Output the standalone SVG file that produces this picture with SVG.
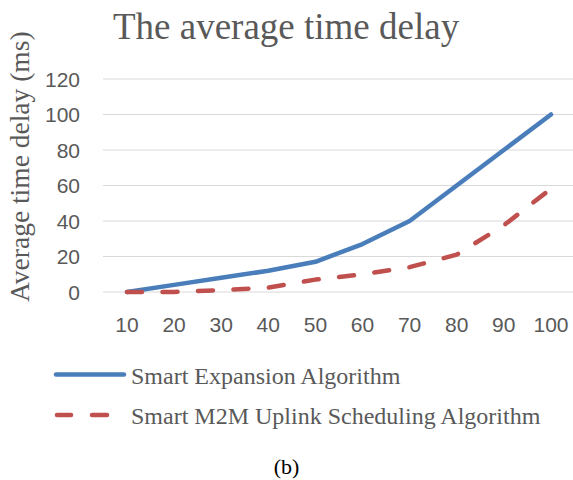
<svg xmlns="http://www.w3.org/2000/svg" width="573" height="480" viewBox="0 0 573 480">
<style>
.grid{stroke:#D9D9D9;stroke-width:1;fill:none}
.tick{font-family:"Liberation Sans",Arial,sans-serif;font-size:21px;fill:#595959}
.ser{font-family:"Liberation Serif","Times New Roman",serif;fill:#595959}
.blue{stroke:#4A7EBB;stroke-width:4.5;fill:none;stroke-linejoin:round;stroke-linecap:round}
.red{stroke:#C0504D;stroke-width:4.5;fill:none;stroke-linejoin:round;stroke-linecap:round;stroke-dasharray:15 20.5}
</style>
<rect width="573" height="480" fill="#FFFFFF"/>
<g id="title"><text class="ser" x="113" y="39" font-size="37">The average time delay</text></g>
<g id="y-axis-title"><text class="ser" font-size="27.5" transform="translate(29,302) rotate(-90)">Average time delay (ms)</text></g>
<g id="gridlines">
<line class="grid" x1="103" y1="79" x2="573" y2="79"/>
<line class="grid" x1="103" y1="114.5" x2="573" y2="114.5"/>
<line class="grid" x1="103" y1="150" x2="573" y2="150"/>
<line class="grid" x1="103" y1="185.5" x2="573" y2="185.5"/>
<line class="grid" x1="103" y1="221" x2="573" y2="221"/>
<line class="grid" x1="103" y1="256.5" x2="573" y2="256.5"/>
<line class="grid" x1="103" y1="292" x2="573" y2="292"/>
</g>
<g id="y-labels" text-anchor="end">
<text class="tick" x="80" y="86.5">120</text>
<text class="tick" x="80" y="122">100</text>
<text class="tick" x="80" y="157.5">80</text>
<text class="tick" x="80" y="193">60</text>
<text class="tick" x="80" y="228.5">40</text>
<text class="tick" x="80" y="264">20</text>
<text class="tick" x="80" y="299.5">0</text>
</g>
<g id="x-labels" text-anchor="middle">
<text class="tick" x="127" y="331.5">10</text>
<text class="tick" x="174.1" y="331.5">20</text>
<text class="tick" x="221.2" y="331.5">30</text>
<text class="tick" x="268.3" y="331.5">40</text>
<text class="tick" x="315.4" y="331.5">50</text>
<text class="tick" x="362.5" y="331.5">60</text>
<text class="tick" x="409.6" y="331.5">70</text>
<text class="tick" x="456.7" y="331.5">80</text>
<text class="tick" x="503.8" y="331.5">90</text>
<text class="tick" x="551" y="331.5">100</text>
</g>
<g id="connectors">
<polyline id="series-expansion" class="blue" points="127,292 174.1,284.9 221.2,277.8 268.3,270.7 315.4,261.8 362.5,244.1 409.6,221 456.7,185.5 503.8,150 551,114.5"/>
<polyline id="series-m2m" class="red" points="127,292 174.1,292 221.2,290.2 268.3,287.6 315.4,279.6 362.5,274.3 409.6,267.2 456.7,254.7 503.8,225.3 551,188.7"/>
</g>
<g id="legend">
<line class="blue" x1="56" y1="374.5" x2="124" y2="374.5"/>
<text class="ser" x="131" y="384" font-size="24">Smart Expansion Algorithm</text>
<line class="red" x1="57" y1="415" x2="71" y2="415" stroke-dasharray="none"/>
<line class="red" x1="92" y1="415" x2="108" y2="415" stroke-dasharray="none"/>
<text class="ser" x="131" y="424" font-size="24">Smart M2M Uplink Scheduling Algorithm</text>
</g>
<g id="caption"><text x="286.5" y="474" text-anchor="middle" font-family="Liberation Serif,Times New Roman,serif" font-size="22" fill="#000000">(b)</text></g>
</svg>
